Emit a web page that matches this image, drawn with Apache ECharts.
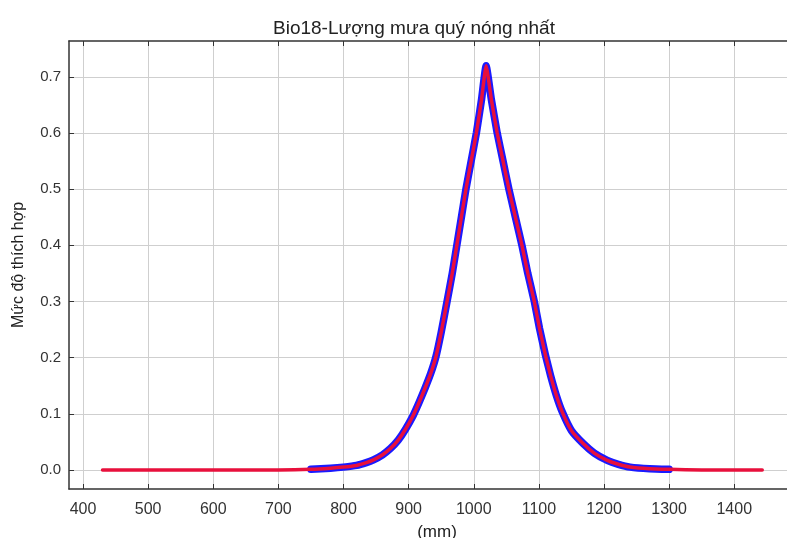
<!DOCTYPE html>
<html>
<head>
<meta charset="utf-8">
<script src="https://cdn.jsdelivr.net/npm/echarts@6/dist/echarts.min.js"></script>
<style>
  html, body { margin: 0; padding: 0; background: #fff; }
  #chart { width: 787px; height: 538px; }
</style>
</head>
<body>
<div id="chart"></div>
<script>
// lượng mưa (mm) và mức độ thích hợp
var rainMm = [430, 500, 600, 700, 750, 780, 800, 820, 835, 846, 860, 872, 884, 895, 907, 916, 925, 934, 942, 950, 959, 967, 974,
  981, 988, 996, 1004, 1012, 1019, 1027, 1036, 1045, 1054, 1064, 1074, 1083, 1093, 1101, 1110, 1118, 1127, 1136,
  1150, 1168, 1185, 1205, 1222, 1240, 1270, 1300, 1350, 1400, 1443];
var suitMean = [0, 0, 0, 0, 0.001, 0.003, 0.005, 0.008, 0.013, 0.018, 0.027, 0.038, 0.053, 0.072, 0.097, 0.12, 0.145, 0.172, 0.202, 0.245, 0.3,
  0.35, 0.4, 0.45, 0.5, 0.55, 0.6, 0.66, 0.72, 0.66, 0.6, 0.55, 0.5, 0.45, 0.4, 0.35, 0.3, 0.252, 0.205, 0.168, 0.132, 0.103,
  0.07, 0.047, 0.03, 0.017, 0.01, 0.005, 0.002, 0.001, 0, 0, 0];
var xTicks = [400, 500, 600, 700, 800, 900, 1000, 1100, 1200, 1300, 1400];
var yTicks = [0, 0.1, 0.2, 0.3, 0.4, 0.5, 0.6, 0.7];

var pts = rainMm.map(function (x, i) { return [x, suitMean[i]]; });
// dải độ lệch (màu xanh) chỉ thấy rõ ở vùng giữa
var bandPts = pts.filter(function (p) { return p[0] >= 750 && p[0] <= 1300; });

var font = 'Liberation Sans, Arial, sans-serif';
var chart = echarts.init(document.getElementById('chart'));

chart.setOption({
  animation: false,
  title: {
    text: 'Bio18-Lượng mưa quý nóng nhất',
    left: 268, top: 14,
    textStyle: { fontFamily: font, fontSize: 19, fontWeight: 'normal', color: '#222' }
  },
  grid: { left: 69, top: 41, right: 0, bottom: 49, outerBoundsMode: 'none' },
  xAxis: [{
    type: 'value', min: 378.5, max: 1481,
    name: '(mm)', nameLocation: 'middle', nameGap: 35,
    nameTextStyle: { fontFamily: font, fontSize: 17, color: '#222', padding: [0, 0, 0, 18] },
    axisLine: { show: true, onZero: false, lineStyle: { color: '#333', width: 1.5 } },
    axisTick: { show: true, inside: true, length: 5, customValues: xTicks, lineStyle: { color: '#333' } },
    axisLabel: {
      customValues: xTicks, margin: 13, fontFamily: font, fontSize: 16, color: '#333',
      formatter: function (v) { return String(v); }
    },
    splitLine: { show: true, customValues: xTicks, lineStyle: { color: '#cfcfcf', width: 1 } }
  }, {
    type: 'value', position: 'top', min: 378.5, max: 1481,
    axisLine: { show: true, onZero: false, lineStyle: { color: '#333', width: 1.5 } },
    axisTick: { show: true, inside: true, length: 5, customValues: xTicks, lineStyle: { color: '#333' } },
    axisLabel: { show: false },
    splitLine: { show: false }
  }],
  yAxis: {
    type: 'value', min: -0.034, max: 0.764,
    name: 'Mức độ thích hợp', nameLocation: 'middle', nameGap: 42,
    nameTextStyle: { fontFamily: font, fontSize: 16, color: '#222' },
    axisLine: { show: true, onZero: false, lineStyle: { color: '#333', width: 1.5 } },
    axisTick: { show: true, inside: true, length: 5, customValues: yTicks, lineStyle: { color: '#333' } },
    axisLabel: {
      customValues: yTicks, margin: 8, fontFamily: font, fontSize: 15, color: '#333',
      formatter: function (v) { return v.toFixed(1); }
    },
    splitLine: { show: true, customValues: yTicks, lineStyle: { color: '#cfcfcf', width: 1 } }
  },
  series: [{
    type: 'line', data: bandPts, showSymbol: false, smooth: 0.15,
    lineStyle: { color: '#1a1aff', width: 7.5, cap: 'round', join: 'round' }, z: 2
  }, {
    type: 'line', data: pts, showSymbol: false, smooth: 0.15,
    lineStyle: { color: '#e8103c', width: 3.5, cap: 'round', join: 'round' }, z: 3
  }]
});
</script>
</body>
</html>
